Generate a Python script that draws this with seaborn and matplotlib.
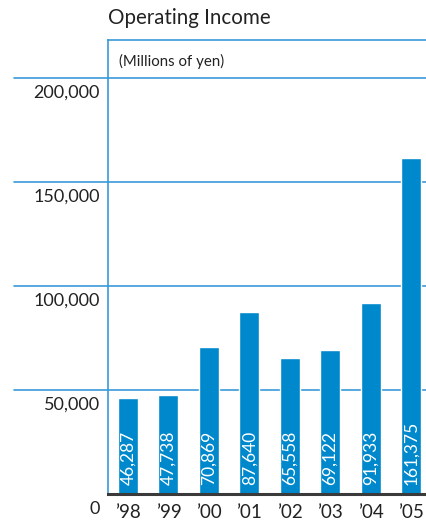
import matplotlib
matplotlib.use("Agg")
import matplotlib.pyplot as plt
import seaborn as sns
import pandas as pd

# Operating income by fiscal year (millions of yen)
years = ["\u201998", "\u201999", "\u201900", "\u201901", "\u201902", "\u201903", "\u201904", "\u201905"]
income = [46287, 47738, 70869, 87640, 65558, 69122, 91933, 161375]
y_ticks = [0, 50000, 100000, 150000, 200000]
y_tick_labels = ["0", "50,000", "100,000", "150,000", "200,000"]

BLUE = "#0088cc"
LINE = "#3a9ad9"
DARK = "#3a3a3a"

sns.set_theme(style="white")
plt.rcParams["font.family"] = ["Lato", "DejaVu Sans"]

df = pd.DataFrame({"year": years, "income": income})

fig = plt.figure(figsize=(4.26, 5.22), dpi=100)
W, H = 426, 522
ax = fig.add_axes([108 / W, (H - 494) / H, (W - 108) / W, (494 - 40) / H])

sns.barplot(data=df, x="year", y="income", color=BLUE, width=0.495,
            saturation=1, ax=ax, zorder=3)

ax.set_xlim(-0.495, 7.37)
ax.set_ylim(0, 218300)
ax.set_xlabel("")
ax.set_ylabel("")
ax.set_yticks([])
ax.tick_params(axis="x", length=0, pad=7, labelsize=13.5, colors="#222222")

for s in ["left", "top"]:
    ax.spines[s].set_color(LINE)
    ax.spines[s].set_linewidth(1.2)
ax.spines["right"].set_visible(False)
ax.spines["bottom"].set_color(DARK)
ax.spines["bottom"].set_linewidth(2.2)
ax.spines["bottom"].set_zorder(4)

# Horizontal rules reaching out past the value axis
for v, lab in zip(y_ticks, y_tick_labels):
    if v > 0:
        ax.plot([-0.296, 1.0], [v, v], transform=ax.get_yaxis_transform(),
                color=LINE, lw=1.2, clip_on=False, zorder=1)
    ax.annotate(lab, xy=(0, v), xycoords=ax.get_yaxis_transform(),
                xytext=(-8, -7), textcoords="offset pixels",
                ha="right", va="top", fontsize=13, color="#222222")

# Values written up the inside of each bar
for i, v in enumerate(income):
    ax.annotate(f"{v:,}", xy=(i, 0), xytext=(0, 9), textcoords="offset pixels",
                rotation=90, ha="center", va="bottom", color="white",
                fontsize=12.5, zorder=5)

fig.text(108 / W, 1 - 18 / H, "Operating Income", ha="left", va="center",
         fontsize=14.8, color="#222222")
fig.text(119 / W, 1 - 61 / H, "(Millions of yen)", ha="left", va="center",
         fontsize=10.8, color="#222222")

fig.savefig("out.png", dpi=100)
